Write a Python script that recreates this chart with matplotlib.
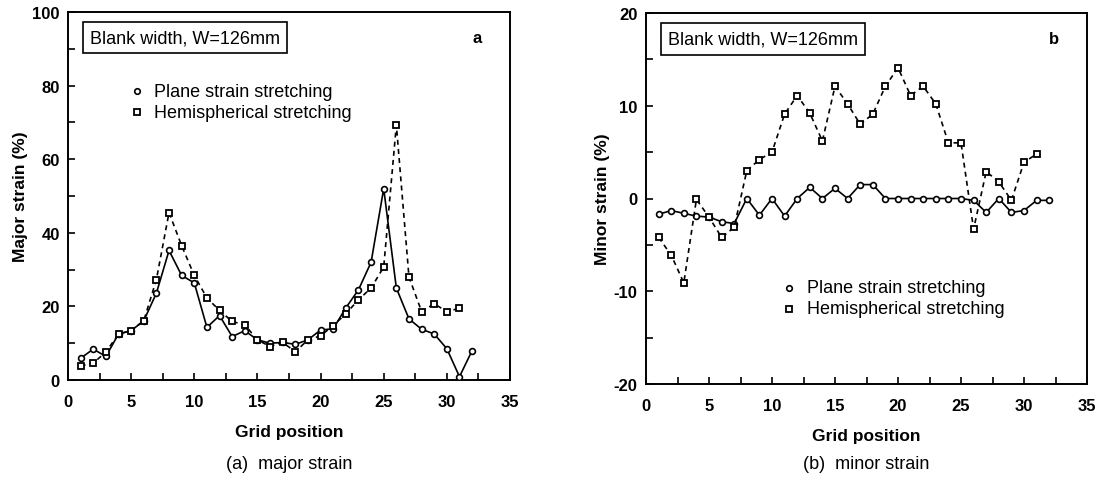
import matplotlib
matplotlib.use("Agg")
import matplotlib.pyplot as plt
from matplotlib.ticker import MultipleLocator

# grid positions
pos_plane = list(range(1, 33))
pos_hemi = list(range(1, 32))

# (a) major strain, %
major_plane = [5.9, 8.4, 6.4, 12.5, 13.4, 16.1, 23.6, 35.2, 28.4, 26.4,
               14.3, 17.5, 11.8, 13.4, 10.9, 10.0, 10.2, 9.7, 10.9, 13.6,
               13.9, 19.6, 24.5, 32.0, 52.0, 25.0, 16.6, 13.8, 12.5, 8.5,
               0.9, 8.0]
major_hemi = [3.8, 4.6, 7.6, 12.5, 13.4, 16.1, 27.3, 45.5, 36.5, 28.4,
              22.3, 18.9, 15.9, 15.0, 10.9, 9.1, 10.2, 7.7, 10.9, 12.0,
              14.8, 18.0, 21.8, 25.0, 30.7, 69.3, 28.0, 18.6, 20.7, 18.6,
              19.5]

# (b) minor strain, %
minor_plane = [-1.7, -1.3, -1.6, -1.9, -2.0, -2.5, -2.7, 0.0, -1.8, 0.0,
               -1.9, 0.0, 1.2, 0.0, 1.1, 0.0, 1.5, 1.5, 0.0, 0.0,
               0.0, 0.0, 0.0, 0.0, 0.0, -0.2, -1.5, 0.0, -1.5, -1.3,
               -0.2, -0.2]
minor_hemi = [-4.2, -6.1, -9.1, -0.1, -2.0, -4.2, -3.1, 3.0, 4.2, 5.0,
              9.1, 11.1, 9.2, 6.2, 12.1, 10.2, 8.0, 9.1, 12.1, 14.1,
              11.1, 12.1, 10.2, 6.0, 6.0, -3.3, 2.9, 1.8, -0.2, 3.9,
              4.8]

label_plane = "Plane strain stretching"
label_hemi = "Hemispherical stretching"
box_text = "Blank width, W=126mm"

SANS = ["Liberation Sans", "DejaVu Sans"]
plt.rcParams["font.family"] = SANS
plt.rcParams["font.weight"] = "bold"
plt.rcParams["axes.unicode_minus"] = False

fig = plt.figure(figsize=(11.04, 4.81), dpi=100)
ax_a = fig.add_axes([68 / 1104, 1 - 381 / 481, 442 / 1104, 368 / 481])
ax_b = fig.add_axes([646 / 1104, 1 - 385 / 481, 441 / 1104, 371 / 481])


def draw_panel(ax, plane, hemi, ylim, ymajor, yminor, ylabel, letter,
               legend_xy, caption):
    ax.plot(pos_plane, plane, "-", color="black", lw=1.2, marker="o",
            ms=4.2, mfc="white", mec="black", mew=1.2, zorder=3)
    ax.plot(pos_hemi, hemi, "--", color="black", lw=1.2, marker="s",
            ms=4.4, mfc="white", mec="black", mew=1.3, zorder=3,
            dashes=(3, 2.5))
    ax.set_xlim(0, 35)
    ax.set_ylim(*ylim)
    ax.xaxis.set_major_locator(MultipleLocator(5))
    ax.xaxis.set_minor_locator(MultipleLocator(2.5))
    ax.yaxis.set_major_locator(MultipleLocator(ymajor))
    ax.yaxis.set_minor_locator(MultipleLocator(yminor))
    ax.tick_params(which="both", direction="in", top=False, right=False,
                   labelsize=12, width=1.2, length=5)
    ax.tick_params(axis="x", which="major", pad=10)
    ax.tick_params(axis="y", which="major", pad=6)
    for sp in ax.spines.values():
        sp.set_linewidth(1.4)
    ax.set_xlabel("Grid position", fontsize=12.5, fontweight="bold",
                  labelpad=11)
    ax.set_ylabel(ylabel, fontsize=12.5, fontweight="bold", labelpad=3)

    ax.text(0.05, 0.93, box_text, transform=ax.transAxes, fontsize=13,
            fontweight="normal", va="center", ha="left",
            bbox=dict(boxstyle="square,pad=0.4", fc="white", ec="black",
                      lw=1.2))
    ax.text(0.925, 0.93, letter, transform=ax.transAxes, fontsize=12,
            fontweight="bold", va="center", ha="center")

    lx, ly = legend_xy
    ax.plot([lx], [ly], "o", transform=ax.transAxes, ms=4, mfc="white",
            mec="black", mew=1.2, clip_on=False)
    ax.plot([lx], [ly - 0.057], "s", transform=ax.transAxes, ms=4.2,
            mfc="white", mec="black", mew=1.3, clip_on=False)
    ax.text(lx + 0.04, ly, label_plane, transform=ax.transAxes,
            fontsize=13, fontweight="normal", va="center")
    ax.text(lx + 0.04, ly - 0.057, label_hemi, transform=ax.transAxes,
            fontsize=13, fontweight="normal", va="center")

    bbox = ax.get_position()
    fig.text((bbox.x0 + bbox.x1) / 2, 1 - 465 / 481, caption,
             fontsize=13, fontweight="normal", ha="center", va="center")


draw_panel(ax_a, major_plane, major_hemi, (0, 100), 20, 10,
           "Major strain (%)", "a", (0.155, 0.785), "(a)  major strain")
draw_panel(ax_b, minor_plane, minor_hemi, (-20, 20), 10, 5,
           "Minor strain (%)", "b", (0.325, 0.26), "(b)  minor strain")

fig.savefig("out.png", dpi=100)
